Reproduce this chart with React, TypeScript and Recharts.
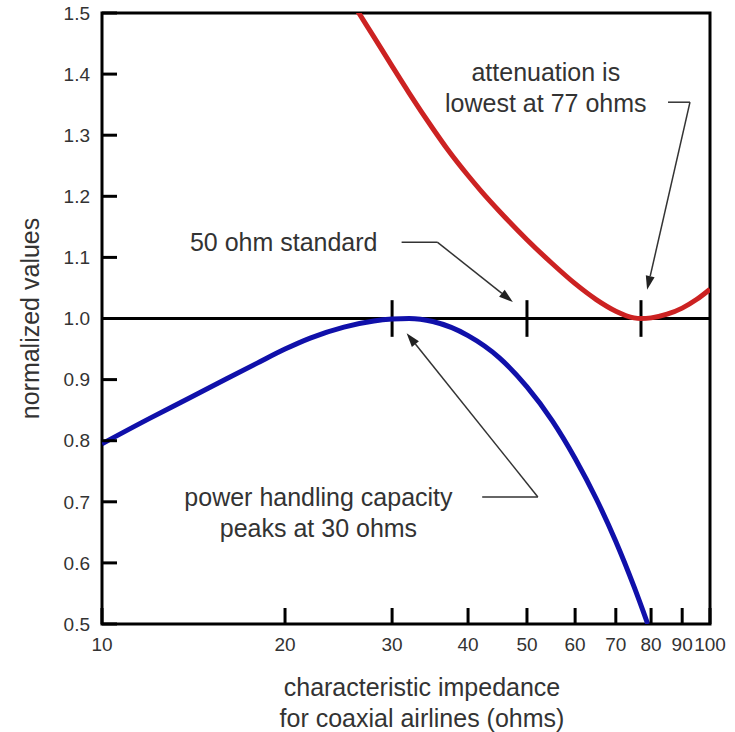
import { LineChart, Line, XAxis, YAxis, ReferenceLine, ReferenceArea, ReferenceDot, Label } from "recharts";

const FONT = '"Liberation Sans", Arial, sans-serif';
const TEXT = "#333";

// impedance (ohms) and normalized power handling capacity
const zPower = [10, 12, 14, 16, 18, 20, 22, 25, 28, 30, 32, 35, 40, 45, 50, 55, 60, 65, 70, 75, 79];
const power = [0.795, 0.837, 0.871, 0.901, 0.927, 0.95, 0.968, 0.986, 0.996, 0.999, 1.0, 0.995, 0.972, 0.936, 0.888, 0.833, 0.771, 0.705, 0.635, 0.561, 0.5];

// impedance (ohms) and normalized attenuation
const zAtten = [25, 26, 28, 30, 32, 35, 37, 40, 42, 45, 50, 55, 60, 65, 70, 75, 77, 80, 85, 90, 95, 100];
const atten = [1.54, 1.512, 1.461, 1.413, 1.369, 1.311, 1.277, 1.234, 1.209, 1.176, 1.129, 1.09, 1.057, 1.031, 1.012, 1.001, 1.0, 1.001, 1.007, 1.017, 1.031, 1.048];

const xTicks = [10, 20, 30, 40, 50, 60, 70, 80, 90, 100];
const yTicks = [0.5, 0.6, 0.7, 0.8, 0.9, 1.0, 1.1, 1.2, 1.3, 1.4, 1.5];
const marks = [30, 50, 77];

const powerData = zPower.map((z, i) => ({ z, v: power[i] }));
const attenData = zAtten.map((z, i) => ({ z, v: atten[i] }));

const arrow = (p: any) => {
  const { x1, y1, x2, y2 } = p;
  const a = Math.atan2(y2 - y1, x2 - x1);
  const L = 14, W = 4.5;
  const bx = x2 - L * Math.cos(a), by = y2 - L * Math.sin(a);
  const px = -Math.sin(a) * W, py = Math.cos(a) * W;
  return (
    <g>
      <line x1={x1} y1={y1} x2={bx} y2={by} stroke={TEXT} strokeWidth={1.5} />
      <polygon points={`${x2},${y2} ${bx + px},${by + py} ${bx - px},${by - py}`} fill="#222" />
    </g>
  );
};

const plain = (p: any) => <line x1={p.x1} y1={p.y1} x2={p.x2} y2={p.y2} stroke={TEXT} strokeWidth={1.5} />;

const note = (lines: string[]) => (p: any) => (
  <text x={p.cx} y={p.cy} textAnchor="middle" fill={TEXT} fontSize={25} fontFamily={FONT}>
    {lines.map((l, i) => (
      <tspan key={i} x={p.cx} dy={i === 0 ? "0.35em" : 31}>{l}</tspan>
    ))}
  </text>
);

const xTitle = (p: any) => {
  const { x, y, width } = p.viewBox;
  const cx = x + width / 2 + 16;
  return (
    <text x={cx} y={y + 72} textAnchor="middle" fill={TEXT} fontSize={25} fontFamily={FONT}>
      <tspan x={cx}>characteristic impedance</tspan>
      <tspan x={cx} dy={31}>for coaxial airlines (ohms)</tspan>
    </text>
  );
};

const yTitle = (p: any) => {
  const { y, height } = p.viewBox;
  const cy = y + height / 2;
  return (
    <text x={30} y={cy} transform={`rotate(-90 30 ${cy})`} textAnchor="middle" dy="0.35em" fill={TEXT} fontSize={25} fontFamily={FONT}>
      normalized values
    </text>
  );
};

export default function App() {
  return (
    <div style={{ position: "absolute", left: 0, top: 0, background: "#fff" }}>
      <LineChart width={735} height={732} margin={{ top: 13, right: 25, bottom: 78, left: 42 }}>
        <XAxis
          dataKey="z" type="number" scale="log" domain={[10, 100]} ticks={xTicks} allowDataOverflow
          axisLine={false} tickSize={-16} tickMargin={30} height={30} interval={0}
          tickLine={{ stroke: "#000", strokeWidth: 3 }}
          tick={{ fill: TEXT, fontSize: 19, fontFamily: FONT }}
        >
          <Label content={xTitle} />
        </XAxis>
        <YAxis
          type="number" domain={[0.5, 1.5]} ticks={yTicks} allowDataOverflow width={60}
          axisLine={false} tickSize={-15} tickMargin={27} interval={0}
          tickLine={{ stroke: "#000", strokeWidth: 3 }}
          tick={{ fill: TEXT, fontSize: 19, fontFamily: FONT }}
          tickFormatter={(v: number) => v.toFixed(1)}
        >
          <Label content={yTitle} />
        </YAxis>
        <ReferenceArea x1={10} x2={100} y1={0.5} y2={1.5} fill="none" stroke="#000" strokeWidth={3} />
        <ReferenceLine y={1} stroke="#000" strokeWidth={3} />
        {marks.map((m) => (
          <ReferenceLine key={m} segment={[{ x: m, y: 0.97 }, { x: m, y: 1.03 }]} stroke="#000" strokeWidth={3} />
        ))}
        <Line data={attenData} dataKey="v" type="monotone" stroke="#cc2222" strokeWidth={5} dot={false} isAnimationActive={false} />
        <Line data={powerData} dataKey="v" type="monotone" stroke="#1010aa" strokeWidth={5} dot={false} isAnimationActive={false} />

        <ReferenceDot x={53.7} y={1.403} r={0} shape={note(["attenuation is", "lowest at 77 ohms"])} />
        <ReferenceLine segment={[{ x: 85.3, y: 1.354 }, { x: 92.7, y: 1.354 }]} shape={plain} />
        <ReferenceLine segment={[{ x: 92.7, y: 1.354 }, { x: 78.8, y: 1.047 }]} shape={arrow} />

        <ReferenceDot x={19.9} y={1.125} r={0} shape={note(["50 ohm standard"])} />
        <ReferenceLine segment={[{ x: 31.1, y: 1.125 }, { x: 35.6, y: 1.125 }]} shape={plain} />
        <ReferenceLine segment={[{ x: 35.6, y: 1.125 }, { x: 47.4, y: 1.027 }]} shape={arrow} />

        <ReferenceDot x={22.7} y={0.708} r={0} shape={note(["power handling capacity", "peaks at 30 ohms"])} />
        <ReferenceLine segment={[{ x: 42.2, y: 0.708 }, { x: 52.1, y: 0.708 }]} shape={plain} />
        <ReferenceLine segment={[{ x: 52.1, y: 0.708 }, { x: 31.7, y: 0.976 }]} shape={arrow} />
      </LineChart>
    </div>
  );
}
